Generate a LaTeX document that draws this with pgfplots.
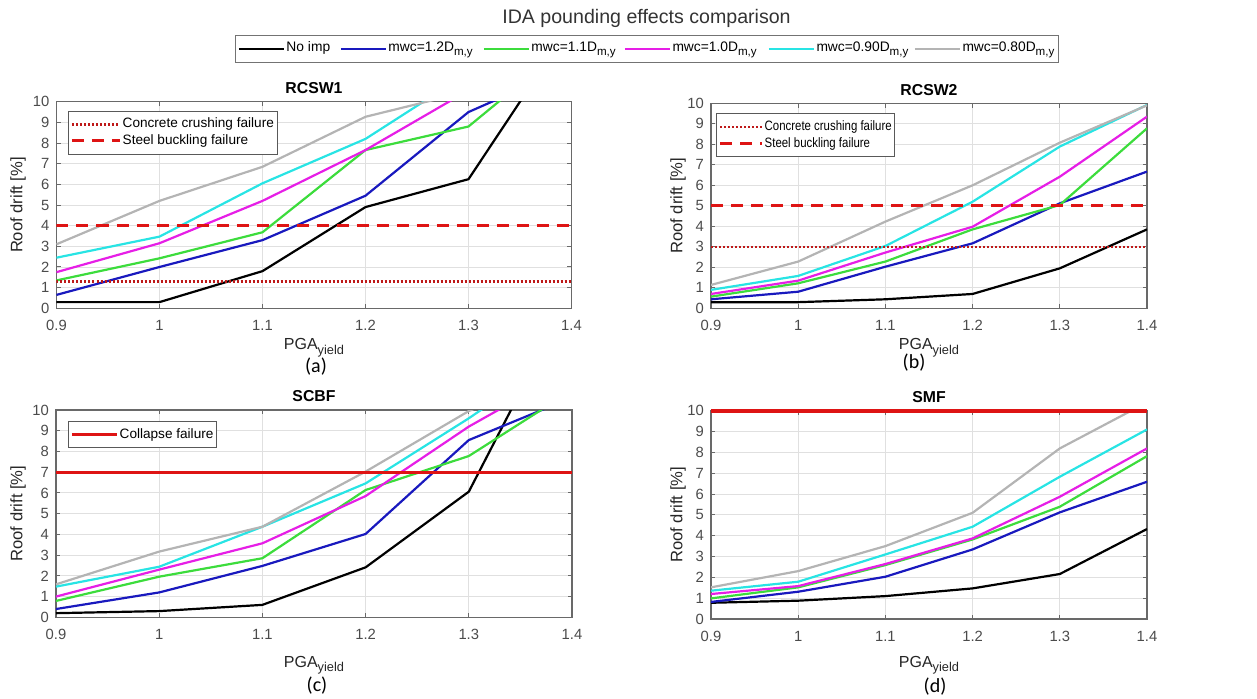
\documentclass[border=0pt]{standalone}
\usepackage{fontspec}
\setmainfont{Liberation Sans}
\newfontfamily\carlito{Carlito}
\usepackage{pgfplots}
\pgfplotsset{compat=1.18}

\definecolor{cBlue}{RGB}{25,25,190}
\definecolor{cGreen}{RGB}{60,220,60}
\definecolor{cMag}{RGB}{230,30,230}
\definecolor{cCyan}{RGB}{40,228,228}
\definecolor{cGray}{RGB}{180,180,180}
\definecolor{cRed}{RGB}{222,20,20}
\definecolor{cDot}{RGB}{190,25,25}
\definecolor{axgray}{RGB}{105,105,105}
\definecolor{tickgray}{RGB}{75,75,75}

\newcommand{\lsub}[1]{\raisebox{-2.1pt}{\fontsize{5.8}{5.8}\selectfont #1}}
\newcommand{\xsub}[1]{\raisebox{-2.4pt}{\fontsize{6.4}{6.4}\selectfont #1}}

\pgfplotsset{
  panel/.style={
    scale only axis,
    xmin=0.9, xmax=1.4, ymin=0, ymax=10,
    xtick={0.9,1,1.1,1.2,1.3,1.4},
    xticklabels={0.9,1,1.1,1.2,1.3,1.4},
    ytick={0,1,...,10},
    /pgf/number format/assume math mode=true,
    grid=major,
    major grid style={draw=black!12, line width=0.45pt},
    axis line style={draw=axgray, line width=0.6pt},
    tick align=inside,
    major tick length=2.2pt,
    tick style={draw=axgray, line width=0.5pt},
    tick label style={font=\fontsize{7.4}{8}\selectfont, text=tickgray},
    xticklabel style={yshift=-2.5pt},
    xlabel={PGA\xsub{yield}},
    xlabel style={font=\fontsize{8}{9}\selectfont, text=black!85, at={(axis description cs:0.5,0)}, anchor=base},
    ylabel={Roof drift [\%]},
    ylabel style={font=\fontsize{8.3}{9}\selectfont, text=black!85},
    title style={font=\bfseries\fontsize{7.9}{9}\selectfont, yshift=-5.6pt},
    legend cell align=left,
    legend style={draw=black!65, line width=0.5pt, fill=white,
      font=\fontsize{6.8}{7.5}\selectfont, inner xsep=1pt, inner ysep=2.4pt,
      nodes={inner xsep=0.6pt, inner ysep=0.6pt, text height=5.3pt, text depth=1.8pt}},
    every axis plot/.append style={line width=1.1pt},
    clip mode=individual,
  },
  ylab/.style={ylabel style={at={(axis description cs:#1,0.5)}, anchor=center}},
  xlab/.style={xlabel style={yshift=-#1}},
  dotline/.style={cDot, line width=1.3pt, dash pattern=on 1pt off 1pt},
  dashline/.style={cRed, line width=1.5pt, dash pattern=on 6pt off 4pt},
  solidline/.style={cRed, line width=1.5pt},
}

\begin{document}
\begin{tikzpicture}
\path[use as bounding box] (0,0) rectangle (628.5pt,-349pt);

\node[font=\fontsize{9.8}{11}\selectfont, text=black!80] at (323.25pt,-9pt) {IDA pounding effects comparison};

% ---------- common legend ----------
\begin{axis}[hide axis, scale only axis, width=10pt, height=10pt,
  xmin=0, xmax=1, ymin=0, ymax=1,
  at={(323.5pt,-24.5pt)}, anchor=center,
  legend columns=6, legend cell align=left,
  legend image code/.code={\draw[#1] (0pt,0pt) -- (22.5pt,0pt);},
  legend style={at={(0.5,0.5)}, anchor=center, draw=black!55, line width=0.5pt, fill=white,
    font=\fontsize{6.9}{8}\selectfont, inner xsep=1pt, inner ysep=1.6pt,
    nodes={inner xsep=0.8pt, inner ysep=1pt, text height=5.5pt, text depth=3pt}}]
\addlegendimage{black, line width=1pt}
\addlegendentry{\makebox[25.9pt][l]{No imp}}
\addlegendimage{cBlue, line width=1pt}
\addlegendentry{\makebox[46.4pt][l]{mwc=1.2D\lsub{m,y}}}
\addlegendimage{cGreen, line width=1pt}
\addlegendentry{\makebox[45.4pt][l]{mwc=1.1D\lsub{m,y}}}
\addlegendimage{cMag, line width=1pt}
\addlegendentry{\makebox[46.9pt][l]{mwc=1.0D\lsub{m,y}}}
\addlegendimage{cCyan, line width=1pt}
\addlegendentry{\makebox[47.9pt][l]{mwc=0.90D\lsub{m,y}}}
\addlegendimage{cGray, line width=1pt}
\addlegendentry{\makebox[46pt][l]{mwc=0.80D\lsub{m,y}}}
\end{axis}

% ---------- (a) RCSW1 ----------
\begin{axis}[panel, at={(28.25pt,-154.15pt)}, anchor=south west,
  width=257.5pt, height=103.3pt, title={RCSW1}, ylab=-0.0748, xlab=20.5pt,
  legend style={at={(axis description cs:0,1)}, anchor=north west, xshift=5.75pt, yshift=-4.5pt},
  legend image code/.code={\draw[#1] (0pt,0pt) -- (24pt,0pt);}]
\addplot[black, forget plot] coordinates {(0.9,0.3) (1.0,0.3) (1.1,1.8) (1.2,4.9) (1.3,6.25) (1.4,13.75)};
\addplot[cBlue, forget plot] coordinates {(0.9,0.65) (1.0,2.0) (1.1,3.3) (1.2,5.45) (1.3,9.5) (1.4,11.7)};
\addplot[cGreen, forget plot] coordinates {(0.9,1.35) (1.0,2.42) (1.1,3.68) (1.2,7.66) (1.3,8.8) (1.4,12.9)};
\addplot[cMag, forget plot] coordinates {(0.9,1.75) (1.0,3.15) (1.1,5.2) (1.2,7.66) (1.3,10.55) (1.4,13)};
\addplot[cCyan, forget plot] coordinates {(0.9,2.45) (1.0,3.47) (1.1,6.05) (1.2,8.2) (1.3,11.4) (1.4,14)};
\addplot[cGray, forget plot] coordinates {(0.9,3.1) (1.0,5.2) (1.1,6.85) (1.2,9.27) (1.3,10.5) (1.4,12)};
\addplot[dotline] coordinates {(0.9,1.3) (1.4,1.3)};
\addlegendentry{Concrete crushing failure}
\addplot[dashline] coordinates {(0.9,4) (1.4,4)};
\addlegendentry{Steel buckling failure}
\end{axis}

% ---------- (b) RCSW2 ----------
\begin{axis}[panel, at={(355.5pt,-154.15pt)}, anchor=south west,
  width=218pt, height=102.5pt, title={RCSW2}, ylab=-0.0757, xlab=20.5pt,
  legend style={at={(axis description cs:0,1)}, anchor=north west, xshift=2.5pt, yshift=-5pt},
  legend image code/.code={\draw[#1] (0pt,0pt) -- (21pt,0pt);}]
\addplot[black, forget plot] coordinates {(0.9,0.3) (1.0,0.3) (1.1,0.44) (1.2,0.7) (1.3,1.95) (1.4,3.85)};
\addplot[cBlue, forget plot] coordinates {(0.9,0.44) (1.0,0.81) (1.1,2.03) (1.2,3.17) (1.3,5.12) (1.4,6.67)};
\addplot[cGreen, forget plot] coordinates {(0.9,0.57) (1.0,1.22) (1.1,2.28) (1.2,3.85) (1.3,5.04) (1.4,8.78)};
\addplot[cMag, forget plot] coordinates {(0.9,0.7) (1.0,1.35) (1.1,2.72) (1.2,3.98) (1.3,6.42) (1.4,9.35)};
\addplot[cCyan, forget plot] coordinates {(0.9,0.9) (1.0,1.58) (1.1,3.04) (1.2,5.2) (1.3,7.89) (1.4,9.92)};
\addplot[cGray, forget plot] coordinates {(0.9,1.14) (1.0,2.28) (1.1,4.23) (1.2,6.0) (1.3,8.08) (1.4,9.9)};
\addplot[dotline] coordinates {(0.9,3) (1.4,3)};
\addlegendentry{\scalebox{0.84}[1]{Concrete crushing failure}}
\addplot[dashline] coordinates {(0.9,5) (1.4,5)};
\addlegendentry{\scalebox{0.84}[1]{Steel buckling failure}}
\end{axis}

% ---------- (c) SCBF ----------
\begin{axis}[panel, at={(28pt,-308.65pt)}, anchor=south west,
  width=258pt, height=103.65pt, title={SCBF}, ylab=-0.0736, xlab=24.9pt,
  legend style={at={(axis description cs:0,1)}, anchor=north west, xshift=6pt, yshift=-5.5pt},
  legend image code/.code={\draw[#1] (0pt,0pt) -- (22.5pt,0pt);}]
\addplot[black, forget plot] coordinates {(0.9,0.2) (1.0,0.3) (1.1,0.6) (1.2,2.41) (1.3,6.06) (1.4,15.7)};
\addplot[cBlue, forget plot] coordinates {(0.9,0.4) (1.0,1.2) (1.1,2.48) (1.2,4.02) (1.3,8.55) (1.4,10.6)};
\addplot[cGreen, forget plot] coordinates {(0.9,0.79) (1.0,1.96) (1.1,2.85) (1.2,6.14) (1.3,7.78) (1.4,10.95)};
\addplot[cMag, forget plot] coordinates {(0.9,1.0) (1.0,2.3) (1.1,3.57) (1.2,5.85) (1.3,9.2) (1.4,12)};
\addplot[cCyan, forget plot] coordinates {(0.9,1.48) (1.0,2.44) (1.1,4.37) (1.2,6.46) (1.3,9.6) (1.4,13)};
\addplot[cGray, forget plot] coordinates {(0.9,1.59) (1.0,3.17) (1.1,4.37) (1.2,7.03) (1.3,9.95) (1.4,12)};
\addplot[solidline] coordinates {(0.9,7) (1.4,7)};
\addlegendentry{Collapse failure}
\end{axis}

% ---------- (d) SMF ----------
\begin{axis}[panel, at={(355.5pt,-309.5pt)}, anchor=south west,
  width=218pt, height=104.15pt, title={SMF}, ylab=-0.0757, xlab=24pt]
\addplot[black] coordinates {(0.9,0.78) (1.0,0.88) (1.1,1.1) (1.2,1.47) (1.3,2.16) (1.4,4.32)};
\addplot[cBlue] coordinates {(0.9,0.82) (1.0,1.31) (1.1,2.03) (1.2,3.34) (1.3,5.12) (1.4,6.59)};
\addplot[cGreen] coordinates {(0.9,0.99) (1.0,1.52) (1.1,2.59) (1.2,3.82) (1.3,5.39) (1.4,7.82)};
\addplot[cMag] coordinates {(0.9,1.2) (1.0,1.58) (1.1,2.64) (1.2,3.87) (1.3,5.87) (1.4,8.19)};
\addplot[cCyan] coordinates {(0.9,1.36) (1.0,1.79) (1.1,3.1) (1.2,4.43) (1.3,6.83) (1.4,9.1)};
\addplot[cGray] coordinates {(0.9,1.52) (1.0,2.3) (1.1,3.5) (1.2,5.1) (1.3,8.19) (1.4,10.4)};
\addplot[cRed, line width=2pt, clip=false] coordinates {(0.9,10) (1.4,10)};
\end{axis}

\node[font=\carlito\fontsize{10}{12}\selectfont] at (158pt,-183.35pt) {(a)};
\node[font=\carlito\fontsize{10}{12}\selectfont] at (457pt,-181.5pt) {(b)};
\node[font=\carlito\fontsize{10}{12}\selectfont] at (158.5pt,-343pt) {(c)};
\node[font=\carlito\fontsize{10}{12}\selectfont] at (467.5pt,-343.25pt) {(d)};
\end{tikzpicture}
\end{document}
